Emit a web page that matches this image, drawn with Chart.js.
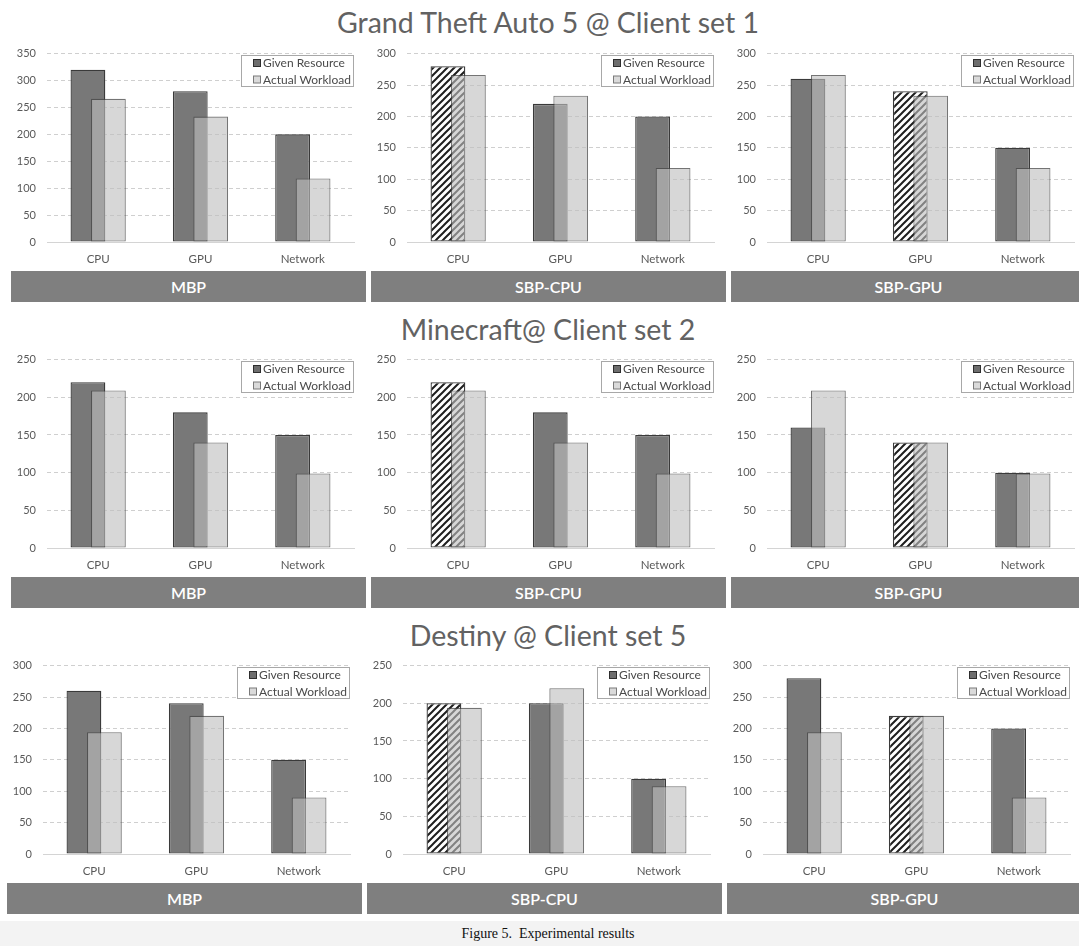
<!DOCTYPE html>
<html>
<head>
<meta charset="utf-8">
<script src="https://cdn.jsdelivr.net/npm/chart.js@4.4.1/dist/chart.umd.min.js"></script>
<style>
  html, body { margin: 0; padding: 0; background: #fff; }
  #fig { position: relative; width: 1079px; height: 946px; overflow: hidden; font-family: Lato, "Open Sans", sans-serif; }
  .title { position: absolute; left: 0; width: 1096px; text-align: center; color: #626262; font-size: 28.5px; line-height: 30px; white-space: nowrap; }
  .band { position: absolute; height: 31px; background: #7f7f7f; color: #fff; font-size: 16px; font-weight: 600; text-align: center; line-height: 31px; }
  .panel { position: absolute; }
  .foot { position: absolute; left: 0; top: 921px; width: 1079px; height: 25px; background: #f3f3f3; }
  .caption { position: absolute; left: 0; top: 924px; width: 1096px; text-align: center; font-family: "Liberation Serif", "DejaVu Serif", serif; font-size: 14px; color: #111; line-height: 20px; }
</style>
</head>
<body>
<div id="fig">
  <div class="foot"></div>
  <div class="caption">Figure 5.&nbsp; Experimental results</div>
</div>
<script>
// ---- data ----
const categories = ['CPU', 'GPU', 'Network'];
const schemes = ['MBP', 'SBP-CPU', 'SBP-GPU'];
const games = ['Grand Theft Auto 5 @ Client set 1', 'Minecraft@ Client set 2', 'Destiny @ Client set 5'];
const seriesNames = ['Given Resource', 'Actual Workload'];

// Grand Theft Auto 5, client set 1
const gtaMbpGiven    = [320, 280, 200];
const gtaSbpCpuGiven = [280, 220, 200];
const gtaSbpGpuGiven = [260, 240, 150];
const gtaActual      = [266, 233, 118];

// Minecraft, client set 2
const mcMbpGiven    = [220, 180, 150];
const mcSbpCpuGiven = [220, 180, 150];
const mcSbpGpuGiven = [160, 140, 100];
const mcActual      = [209, 140, 99];

// Destiny, client set 5
const dstMbpGiven    = [260, 240, 150];
const dstSbpCpuGiven = [200, 200, 100];
const dstSbpGpuGiven = [280, 220, 200];
const dstActual      = [194, 220, 90];

// y-axis upper bound per game (row) and scheme (column)
const yAxisMax = [[350, 300, 300], [250, 250, 250], [300, 250, 300]];
const yTickStep = 50;

// resource each scheme pins (drawn hatched); -1 = none
const pinnedResource = [-1, 0, 1];

const givenRows = [
  [gtaMbpGiven, gtaSbpCpuGiven, gtaSbpGpuGiven],
  [mcMbpGiven, mcSbpCpuGiven, mcSbpGpuGiven],
  [dstMbpGiven, dstSbpCpuGiven, dstSbpGpuGiven]
];
const actualRows = [gtaActual, mcActual, dstActual];

// ---- styling ----
const GIVEN_FILL = '#787878';
const GIVEN_EDGE = '#3a3a3a';
const ACTUAL_FILL = 'rgba(190,190,190,0.62)';
const ACTUAL_EDGE = 'rgba(70,70,70,0.75)';
const TEXT = '#595959';

Chart.defaults.font.family = 'Lato, "Open Sans", sans-serif';
Chart.defaults.color = TEXT;

function hatchPattern() {
  const s = 7;
  const c = document.createElement('canvas');
  c.width = s; c.height = s;
  const g = c.getContext('2d');
  g.fillStyle = '#ffffff';
  g.fillRect(0, 0, s, s);
  g.strokeStyle = '#1e1e1e';
  g.lineWidth = 2;
  g.beginPath();
  g.moveTo(-1, s + 1); g.lineTo(s + 1, -1);
  g.moveTo(-1, 1); g.lineTo(1, -1);
  g.moveTo(s - 1, s + 1); g.lineTo(s + 1, s - 1);
  g.stroke();
  return g.createPattern(c, 'repeat');
}
const HATCH = hatchPattern();

// paint series in array order, so the translucent workload bars sit over the resource bars
const paintOrder = {
  id: 'paintOrder',
  beforeDatasetsDraw(chart) {
    const metas = chart.getSortedVisibleDatasetMetas().slice().sort((a, b) => a.index - b.index);
    metas.forEach((meta) => meta.controller.draw());
    return false;
  }
};

// legend drawn as a framed box in the top-right corner of the plot area
const boxLegend = {
  id: 'boxLegend',
  afterDraw(chart, args, opts) {
    const { ctx, chartArea } = chart;
    const w = 113, h = 32;
    const x = Math.round(chartArea.right - w), y = Math.round(chartArea.top + 1);
    ctx.save();
    ctx.fillStyle = '#ffffff';
    ctx.fillRect(x, y, w, h);
    ctx.strokeStyle = '#a8a8a8';
    ctx.lineWidth = 1;
    ctx.strokeRect(x + 0.5, y + 0.5, w - 1, h - 1);
    ctx.font = '12px Lato, "Open Sans", sans-serif';
    ctx.textBaseline = 'middle';
    chart.data.datasets.forEach((ds, i) => {
      const cy = y + 8 + i * 16.5;
      const sw = opts.swatches[i];
      ctx.fillStyle = sw.fill;
      ctx.fillRect(x + 12.5, cy - 3.5, 7, 7);
      ctx.strokeStyle = sw.edge;
      ctx.strokeRect(x + 12.5, cy - 3.5, 7, 7);
      ctx.fillStyle = '#4a4a4a';
      ctx.fillText(ds.label, x + 22, cy + 0.5);
    });
    ctx.restore();
  }
};

const fig = document.getElementById('fig');
const ROW_STEP = 306;
const rowShift = [0, 0, -4];

games.forEach((game, r) => {
  const t = document.createElement('div');
  t.className = 'title';
  t.style.top = (7 + r * ROW_STEP + (r ? 1 : 0)) + 'px';
  t.textContent = game;
  fig.appendChild(t);

  schemes.forEach((scheme, c) => {
    const left = 360 * c + rowShift[r];
    const band = document.createElement('div');
    band.className = 'band';
    band.style.left = (left + 11) + 'px';
    band.style.width = '355px';
    band.style.top = (271 + r * ROW_STEP) + 'px';
    band.textContent = scheme;
    fig.appendChild(band);

    const cv = document.createElement('canvas');
    cv.className = 'panel';
    cv.width = 360; cv.height = 240;
    cv.style.left = left + 'px';
    cv.style.top = (36 + r * ROW_STEP) + 'px';
    fig.appendChild(cv);

    const given = givenRows[r][c];
    const pin = pinnedResource[c];
    const givenFill = given.map((v, i) => (i === pin ? HATCH : GIVEN_FILL));

    new Chart(cv, {
      type: 'bar',
      data: {
        labels: categories,
        datasets: [
          {
            label: seriesNames[0],
            data: given,
            backgroundColor: givenFill,
            borderColor: GIVEN_EDGE,
            borderWidth: 1.3,
            borderSkipped: false
          },
          {
            label: seriesNames[1],
            data: actualRows[r],
            backgroundColor: ACTUAL_FILL,
            borderColor: ACTUAL_EDGE,
            borderWidth: 1.1,
            borderSkipped: false
          }
        ]
      },
      options: {
        responsive: false,
        animation: false,
        devicePixelRatio: 1,
        layout: { padding: { left: 0, right: 6, top: 16, bottom: 0 } },
        datasets: { bar: { categoryPercentage: 0.40, barPercentage: 1.7 } },
        scales: {
          x: {
            grid: { display: false, drawTicks: false },
            border: { display: true, color: '#d4d4d4', width: 1 },
            ticks: { padding: 10, color: TEXT, font: { size: 11.5 } },
            afterFit(scale) { scale.height = 34; }
          },
          y: {
            min: 0,
            max: yAxisMax[r][c],
            ticks: { stepSize: yTickStep, padding: 11, color: TEXT, font: { size: 11 } },
            grid: {
              drawTicks: false,
              color: (ctx) => (ctx.tick && ctx.tick.value === 0 ? 'rgba(0,0,0,0)' : '#cfcfcf'),
              lineWidth: 1
            },
            border: { display: false, dash: [4, 3] },
            afterFit(scale) { scale.width = 47; }
          }
        },
        plugins: {
          legend: { display: false },
          tooltip: { enabled: false },
          boxLegend: {
            swatches: [
              { fill: '#6e6e6e', edge: '#2e2e2e' },
              { fill: '#dadada', edge: '#7a7a7a' }
            ]
          }
        }
      },
      plugins: [paintOrder, boxLegend]
    });
  });
});
</script>
</body>
</html>
